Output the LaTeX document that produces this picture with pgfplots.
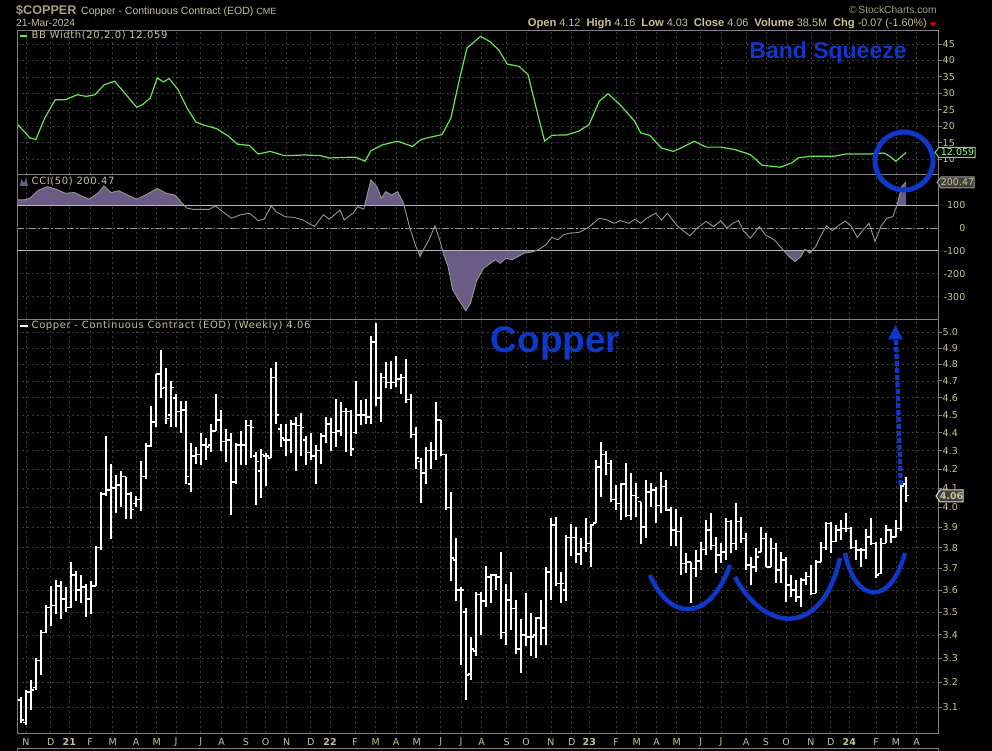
\documentclass[border=0pt]{standalone}
\usepackage{pgfplots}
\pgfplotsset{compat=1.18}
\usepackage{pgfplotstable}
\usepackage{fontspec}
\setmainfont{DejaVu Sans}
\newfontfamily\lib{Liberation Sans}
\newfontfamily\ui[LetterSpace=6]{DejaVu Sans}
\definecolor{khaki}{RGB}{200,194,150}
\definecolor{khakid}{RGB}{165,160,125}
\definecolor{framegray}{RGB}{128,128,128}
\definecolor{gridgray}{RGB}{62,62,62}
\definecolor{bbgreen}{RGB}{105,230,85}
\definecolor{ccigray}{RGB}{150,150,150}
\definecolor{ccifill}{RGB}{106,92,132}
\definecolor{annblue}{RGB}{15,55,200}
\definecolor{reflines}{RGB}{185,185,185}
\newcommand\tk{\fontsize{9.5}{10}\selectfont}

\pgfdeclareplotmark{otick}{\pgfpathmoveto{\pgfqpoint{-2.6pt}{0pt}}\pgfpathlineto{\pgfqpoint{0pt}{0pt}}\pgfusepathqstroke}
\pgfdeclareplotmark{ctick}{\pgfpathmoveto{\pgfqpoint{0pt}{0pt}}\pgfpathlineto{\pgfqpoint{2.6pt}{0pt}}\pgfusepathqstroke}

\pgfplotstableread{
k o h l c
0 3.13 3.14 3.04 3.05
1 3.04 3.17 3.03 3.16
2 3.16 3.21 3.09 3.17
3 3.18 3.30 3.17 3.29
4 3.29 3.42 3.23 3.41
5 3.41 3.53 3.41 3.52
6 3.52 3.62 3.44 3.53
7 3.53 3.645 3.49 3.62
8 3.62 3.64 3.47 3.56
9 3.56 3.615 3.50 3.52
10 3.52 3.73 3.52 3.67
11 3.67 3.69 3.55 3.60
12 3.60 3.67 3.54 3.615
13 3.615 3.63 3.48 3.56
14 3.56 3.64 3.49 3.62
15 3.62 3.81 3.62 3.80
16 3.80 4.08 3.79 4.07
17 4.07 4.38 4.06 4.09
18 4.09 4.23 3.84 4.10
19 4.10 4.17 3.97 4.115
20 4.115 4.19 4.00 4.16
21 4.16 4.16 3.94 4.07
22 4.07 4.08 3.94 3.99
23 4.02 4.06 4.00 4.04
24 4.04 4.245 3.98 4.16
25 4.16 4.34 4.145 4.325
26 4.325 4.55 4.32 4.46
27 4.46 4.74 4.43 4.74
28 4.74 4.89 4.60 4.655
29 4.66 4.775 4.45 4.48
30 4.50 4.70 4.43 4.66
31 4.60 4.62 4.43 4.52
32 4.52 4.58 4.40 4.53
33 4.53 4.58 4.12 4.16
34 4.12 4.34 4.08 4.27
35 4.27 4.32 4.23 4.28
36 4.28 4.40 4.22 4.33
37 4.33 4.37 4.25 4.32
38 4.33 4.45 4.29 4.41
39 4.41 4.625 4.41 4.47
40 4.47 4.53 4.30 4.35
41 4.35 4.42 4.24 4.36
42 4.36 4.40 3.96 4.13
43 4.13 4.34 4.12 4.33
44 4.33 4.41 4.22 4.33
45 4.33 4.47 4.22 4.44
46 4.44 4.47 4.26 4.43
47 4.27 4.29 4.01 4.24
48 4.19 4.31 4.05 4.28
49 4.27 4.285 4.11 4.27
50 4.26 4.775 4.26 4.72
51 4.72 4.815 4.45 4.50
52 4.42 4.45 4.32 4.37
53 4.36 4.45 4.27 4.36
54 4.36 4.47 4.285 4.45
55 4.45 4.49 4.19 4.44
56 4.44 4.51 4.27 4.43
57 4.36 4.38 4.22 4.29
58 4.29 4.40 4.25 4.27
59 4.27 4.33 4.12 4.30
60 4.30 4.40 4.23 4.38
61 4.38 4.49 4.34 4.45
62 4.45 4.48 4.30 4.40
63 4.40 4.59 4.32 4.41
64 4.41 4.575 4.38 4.52
65 4.52 4.54 4.29 4.52
66 4.52 4.53 4.27 4.31
67 4.40 4.70 4.39 4.50
68 4.50 4.585 4.445 4.50
69 4.50 4.59 4.45 4.49
70 4.49 4.98 4.45 4.94
71 4.94 5.06 4.55 4.60
72 4.60 4.75 4.46 4.72
73 4.72 4.815 4.66 4.69
74 4.69 4.82 4.65 4.69
75 4.69 4.85 4.665 4.71
76 4.71 4.74 4.62 4.72
77 4.72 4.83 4.57 4.59
78 4.59 4.62 4.37 4.39
79 4.39 4.43 4.20 4.26
80 4.24 4.26 4.02 4.18
81 4.18 4.32 4.12 4.30
82 4.30 4.35 4.20 4.30
83 4.30 4.575 4.25 4.47
84 4.47 4.47 4.27 4.28
85 4.28 4.28 3.99 4.00
86 4.00 4.08 3.64 3.75
87 3.74 3.845 3.55 3.60
88 3.60 3.615 3.27 3.60
89 3.50 3.517 3.13 3.23
90 3.235 3.39 3.21 3.34
91 3.33 3.59 3.31 3.58
92 3.58 3.59 3.40 3.55
93 3.55 3.71 3.525 3.66
94 3.66 3.677 3.54 3.67
95 3.67 3.677 3.60 3.66
96 3.66 3.78 3.38 3.41
97 3.41 3.63 3.357 3.555
98 3.555 3.685 3.42 3.517
99 3.517 3.554 3.32 3.34
100 3.34 3.47 3.24 3.40
101 3.40 3.585 3.35 3.39
102 3.39 3.494 3.31 3.39
103 3.40 3.48 3.30 3.475
104 3.475 3.554 3.357 3.43
105 3.43 3.709 3.357 3.685
106 3.685 3.944 3.554 3.91
107 3.91 3.952 3.62 3.63
108 3.63 3.685 3.54 3.63
109 3.60 3.861 3.55 3.85
110 3.85 3.919 3.76 3.85
111 3.85 3.90 3.725 3.77
112 3.77 3.845 3.717 3.80
113 3.80 3.944 3.78 3.82
114 3.82 3.919 3.709 3.91
115 3.92 4.25 3.92 4.21
116 4.21 4.35 4.054 4.28
117 4.28 4.30 4.17 4.23
118 4.23 4.25 4.03 4.04
119 4.04 4.115 3.986 4.02
120 4.02 4.124 3.936 4.12
121 4.12 4.231 3.952 3.96
122 3.96 4.177 3.936 4.06
123 4.06 4.124 3.952 4.05
124 4.03 4.03 3.82 3.90
125 3.90 4.142 3.845 4.08
126 4.08 4.124 4.003 4.09
127 4.09 4.107 3.92 4.01
128 4.01 4.185 3.97 4.107
129 4.107 4.142 3.98 3.986
130 3.986 4.003 3.81 3.886
131 3.886 3.995 3.81 3.88
132 3.88 3.952 3.67 3.725
133 3.725 3.772 3.68 3.73
134 3.73 3.73 3.54 3.70
135 3.70 3.788 3.66 3.735
136 3.735 3.83 3.693 3.79
137 3.79 3.936 3.764 3.886
138 3.886 3.97 3.788 3.81
139 3.81 3.853 3.68 3.764
140 3.764 3.821 3.725 3.78
141 3.78 3.944 3.74 3.93
142 3.93 3.936 3.772 3.82
143 3.82 4.02 3.788 3.93
144 3.93 3.95 3.821 3.845
145 3.845 3.870 3.693 3.716
146 3.716 3.756 3.623 3.709
147 3.709 3.797 3.685 3.756
148 3.78 3.902 3.78 3.845
149 3.845 3.870 3.709 3.709
150 3.709 3.845 3.709 3.797
151 3.797 3.821 3.631 3.693
152 3.693 3.780 3.631 3.74
153 3.74 3.756 3.547 3.623
154 3.623 3.67 3.569 3.60
155 3.60 3.646 3.547 3.569
156 3.569 3.654 3.524 3.646
157 3.646 3.685 3.623 3.662
158 3.662 3.717 3.577 3.585
159 3.585 3.74 3.585 3.732
160 3.732 3.829 3.732 3.80
161 3.80 3.927 3.788 3.919
162 3.919 3.927 3.772 3.829
163 3.829 3.91 3.829 3.886
164 3.886 3.936 3.837 3.894
165 3.894 3.97 3.878 3.894
166 3.894 3.902 3.797 3.80
167 3.80 3.837 3.74 3.788
168 3.788 3.797 3.709 3.788
169 3.788 3.894 3.748 3.853
170 3.853 3.944 3.813 3.821
171 3.821 3.829 3.654 3.670
172 3.677 3.845 3.677 3.821
173 3.821 3.91 3.821 3.886
174 3.886 3.894 3.821 3.853
175 3.853 3.936 3.853 3.894
176 3.894 4.14 3.88 4.11
177 4.12 4.16 4.03 4.06
}\price

\pgfplotstableread{
x v
-0.6 20.5
1.76 16.5
2.96 16.0
4.74 22.5
6.86 28.1
8.88 28.1
11.26 29.6
13.04 29.1
14.8 29.6
16.6 32.6
18.72 33.7
20.74 30.1
23.12 25.8
24.3 26.6
25.84 28.6
27.26 34.7
28.46 33.5
29.64 34.5
31.42 31.1
33.2 25.6
34.98 21.3
36.76 20.3
39.14 19.3
41.5 17.0
43.28 14.6
45.66 14.2
47.44 11.6
49.8 12.4
52.78 11.1
56.92 11.3
59.9 11.1
61.66 10.4
65.22 10.6
67 10.6
68.8 9.4
69.98 12.6
72.34 14.4
75.32 15.5
78.28 13.9
80.06 16.0
81.84 16.7
84.2 17.5
85.98 22.5
87.76 34.7
89.2 43.8
91.92 47.3
93.7 45.8
95.48 43.3
97.26 38.9
99.62 38.2
101.4 35.7
103.2 24.6
104.72 15.5
106.16 17.3
109.12 17.4
111.5 18.5
113.6 20.5
115.64 27.6
117.4 29.9
119.8 26.6
122.76 21.5
123.94 18
125.72 17.3
128.1 13.4
130.46 12.4
132.24 13.6
134.62 15.5
136.98 13.7
139.96 13.7
142.92 12.9
145.88 11.4
148.26 8.2
151.82 7.6
154.2 8.9
155.38 10.4
157.76 10.9
162.5 10.9
164.86 11.6
169.6 11.6
172.58 11.9
173.76 10.9
174.96 9.4
177 12.059
}\bbw

\pgfplotstableread{
x v
-0.6 122
0.6 122
1.76 129
3.54 165
5.32 180
7.1 168
8.88 151
10.66 154
12.44 136
13.62 125
15.4 151
16.6 183
18 154
19.56 162
21.34 143
23.12 125
24.9 143
27.26 172
29.04 151
30.82 143
32.26 107
33.2 86
34.4 81
36.16 81
37.7 81
38.9 96
40.32 71
42.1 42
43.88 57
45.66 64
47.44 32
48.62 38
50.04 96
51 71
52.78 49
54.56 46
56.34 35
57.52 20
58.7 6
60.48 57
61.66 38
63.8 78
64.64 35
66.42 64
67.36 93
68.54 81
69.98 209
71.16 180
72.1 129
72.94 158
74.12 143
75.32 158
76.5 107
77.68 6
78.86 -74
79.82 -125
80.64 -88
81.6 -52
82.78 9
83.74 -52
84.44 -110
85.4 -168
86.34 -270
87.52 -313
88.96 -361
89.9 -328
91.08 -233
92.52 -175
93.7 -157
94.88 -139
95.84 -154
97.02 -132
98.2 -139
99.4 -125
100.6 -110
102 -106
103.4 -96
104.96 -74
106.16 -41
107.34 -52
108.52 -30
109.72 -23
111.5 -20
113.28 -1
114.46 20
115.64 42
117.18 35
118.6 20
119.8 32
121.58 20
122.76 38
123.94 20
125.14 42
126.9 64
128.1 35
129.28 64
131.06 13
132.24 -9
133.8 -35
135.22 -1
137 28
138.54 6
139.96 32
141.14 -1
142.34 20
143.52 32
144.46 -12
145.88 -45
147.68 6
148.86 -30
150.64 -52
152.42 -96
153.6 -125
154.8 -146
155.98 -125
156.8 -93
157.76 -110
158.94 -81
159.88 -38
161.08 9
162.26 -12
163.68 13
164.86 30
166.06 6
167.24 -41
168.42 -9
169.62 20
170.8 -59
171.98 6
173.16 42
174.36 49
175.2 100
176.14 180
177 200.47
}\cci

\pgfplotsset{panel/.style={
  scale only axis, width=921pt, xmin=-0.8, xmax=183.4, anchor=south west,
  axis line style={draw=framegray, line width=0.9pt},
  xtick={1,5.94,9.66,13.8,18.34,23,27.14,31,35.94,40.14,45,48.94,53.14,57.94,61.8,66.8,70.94,75,79.14,83.94,88,92.14,97.14,101,106,110.14,113.66,119,123.14,127.14,131.14,135.94,140,145,149,153,158,161.94,165.66,171,175,179.14},
  xticklabels={}, xtick style={draw=none},
  xmajorgrids,
  grid style={draw=gridgray, dash pattern=on 2pt off 3pt, line width=0.7pt},
  ytick pos=right, yticklabel pos=right,
  tick align=outside, major tick length=3.5pt,
  ytick style={draw=framegray, line width=0.9pt},
  yticklabel style={font=\tk, text=khaki, anchor=west, inner sep=0pt, xshift=1pt},
  /pgf/number format/assume math mode=true,
}}

\begin{document}
\begin{tikzpicture}
\fill[black] (0pt,0pt) rectangle (992pt,751pt);
\useasboundingbox (0pt,0pt) rectangle (992pt,751pt);

% ---------- BB Width panel ----------
\begin{axis}[panel, at={(17pt,577pt)}, height=144pt,
  ymin=5.54, ymax=49.25, ytick={10,15,20,25,30,35,40,45}, ymajorgrids]
\addplot[bbgreen, line width=1.2pt] table[x=x,y=v] {\bbw};
\end{axis}

% ---------- CCI panel ----------
\begin{axis}[panel, at={(17pt,432pt)}, height=145pt,
  ymin=-397, ymax=235, ytick={100,0,-100,-200,-300}, ymajorgrids,
  ytick style={draw=none},
  yticklabel style={anchor=east, xshift=23pt}]
\begin{scope}
\clip (axis cs:-5,100) rectangle (axis cs:190,400);
\addplot[fill=ccifill, draw=none] table[x=x,y=v] {\cci} \closedcycle;
\end{scope}
\begin{scope}
\clip (axis cs:-5,-500) rectangle (axis cs:190,-100);
\addplot[fill=ccifill, draw=none] table[x=x,y=v] {\cci} \closedcycle;
\end{scope}
\addplot[black, line width=1pt] coordinates {(-0.8,0) (183.4,0)};
\addplot[reflines, line width=0.9pt] coordinates {(-0.8,100) (183.4,100)};
\addplot[reflines, line width=0.9pt] coordinates {(-0.8,-100) (183.4,-100)};
\addplot[ccigray, line width=0.8pt, dash pattern=on 7pt off 2pt on 1.5pt off 2pt] coordinates {(-0.8,0) (183.4,0)};
\addplot[ccigray, line width=0.9pt] table[x=x,y=v] {\cci};
\end{axis}

% ---------- Price panel ----------
\begin{axis}[panel, at={(17pt,18pt)}, height=414pt,
  ymode=log, ymin=3.0, ymax=5.086, ymajorgrids,
  ytick={3.1,3.2,3.3,3.4,3.5,3.6,3.7,3.8,3.9,4.0,4.1,4.2,4.3,4.4,4.5,4.6,4.7,4.8,4.9,5.0},
  yticklabels={3.1,3.2,3.3,3.4,3.5,3.6,3.7,3.8,3.9,4.0,4.1,4.2,4.3,4.4,4.5,4.6,4.7,4.8,4.9,5.0},
  xticklabels={N,D,\textbf{21},F,M,A,M,J,J,A,S,O,N,D,\textbf{22},F,M,A,M,J,J,A,S,O,N,D,\textbf{23},F,M,A,M,J,J,A,S,O,N,D,\textbf{24},F,M,A},
  xticklabel style={font=\tk, text=khaki, inner sep=0pt, anchor=center, yshift=-5.8pt}]
\addplot[white, only marks, mark=ctick, mark options={line width=1.6pt, draw=white},
  error bars/.cd, y dir=both, y explicit, error mark=none,
  error bar style={line width=1.6pt, white}]
  table[x=k, y=c, y error plus expr=\thisrow{h}-\thisrow{c}, y error minus expr=\thisrow{c}-\thisrow{l}] {\price};
\addplot[white, only marks, mark=otick, mark options={line width=1.6pt, draw=white}] table[x=k, y=o] {\price};
\end{axis}

\begin{scope}[x=1pt,y=1pt]
% bottom frame line
\draw[framegray, line width=0.9pt] (17,0) -- (17,2.5) -- (938,2.5) -- (938,0);

% ---------- header ----------
\node[anchor=base west, inner sep=0pt, text=khakid] at (16,736) {\lib\bfseries\fontsize{12.6}{13}\selectfont \$COPPER};
\node[anchor=base west, inner sep=0pt, text=khaki] at (81,736) {\lib\fontsize{10.5}{11}\selectfont Copper - Continuous Contract (EOD) {\fontsize{9}{10}\selectfont CME}};
\node[anchor=base west, inner sep=0pt, text=khaki] at (16,724.5) {\lib\fontsize{10.3}{11}\selectfont 21-Mar-2024};
\node[anchor=base east, inner sep=0pt, text=khakid] at (937,737) {\lib\fontsize{10.3}{11}\selectfont \textcopyright\,StockCharts.com};
\node[anchor=base east, inner sep=0pt, text=khaki] at (927,724.5) {\lib\fontsize{10.8}{11}\selectfont \textbf{\fontsize{11.2}{11}\selectfont Open} 4.12\ \ \textbf{\fontsize{11.2}{11}\selectfont High} 4.16\ \ \textbf{\fontsize{11.2}{11}\selectfont Low} 4.03\ \ \textbf{\fontsize{11.2}{11}\selectfont Close} 4.06\ \ \textbf{\fontsize{11.2}{11}\selectfont Volume} 38.5M\ \ \textbf{\fontsize{11.2}{11}\selectfont Chg} -0.07 (-1.60\%)};
\fill[red!85!black] (929.5,728.5) -- (936.5,728.5) -- (933,724.5) -- cycle;

% ---------- panel legends ----------
\draw[bbgreen, line width=2pt] (20,715.3) -- (27,715.3);
\node[anchor=west, inner sep=0pt, text=khaki] at (31.5,715.3) {\ui\fontsize{10}{10}\selectfont BB Width(20,2.0) 12.059};
\fill[ccifill] (19.5,565) -- (21.5,572) -- (24,568) -- (26,573) -- (28,565) -- cycle;
\node[anchor=west, inner sep=0pt, text=khaki] at (31.5,569.5) {\ui\fontsize{10}{10}\selectfont CCI(50) 200.47};
\draw[white, line width=1.5pt] (20,425) -- (28,425);
\node[anchor=west, inner sep=0pt, text=khaki] at (31.5,425) {\ui\fontsize{10}{10}\selectfont Copper - Continuous Contract (EOD) (Weekly) 4.06};

% ---------- right value boxes ----------
\filldraw[fill=black, draw=bbgreen, line width=1pt] (935,598.5) -- (939,603.5) -- (975,603.5) -- (975,593.5) -- (939,593.5) -- cycle;
\node[text=bbgreen!60!white, inner sep=0pt] at (957.5,598.5) {\tk 12.059};
\filldraw[fill=black!75!white, draw=ccigray, line width=1pt] (937,568.5) -- (941,574) -- (974,574) -- (974,563) -- (941,563) -- cycle;
\node[text=khaki, inner sep=0pt] at (957.5,568.5) {\tk 200.47};
\filldraw[fill=black!75!white, draw=khaki!60!white, line width=1pt] (936,255) -- (940,261) -- (963,261) -- (963,249) -- (940,249) -- cycle;
\node[text=khaki, inner sep=0pt] at (951.5,255) {\tk\bfseries 4.06};

% ---------- annotations ----------
\node[text=annblue, inner sep=0pt] at (828,698) {\lib\bfseries\fontsize{23}{24}\selectfont Band Squeeze};
\node[text=annblue, inner sep=0pt] at (555.5,408) {\lib\bfseries\fontsize{37}{38}\selectfont Copper};
\draw[annblue, line width=5pt] (904,590) circle (29);
\draw[annblue, line width=4.3pt, dash pattern=on 5pt off 2pt] (900.7,266) -- (896,412);
\fill[annblue] (895.5,426) -- (888,411.5) -- (903,411.5) -- cycle;
\draw[annblue, line width=4.5pt] (650,176) .. controls (670,129) and (710,129) .. (730,186);
\draw[annblue, line width=4.5pt] (735,174) .. controls (765,118) and (822,113) .. (840,193);
\draw[annblue, line width=4.5pt] (845,198) .. controls (855,148) and (890,143) .. (905,198);
\end{scope}
\end{tikzpicture}
\end{document}
